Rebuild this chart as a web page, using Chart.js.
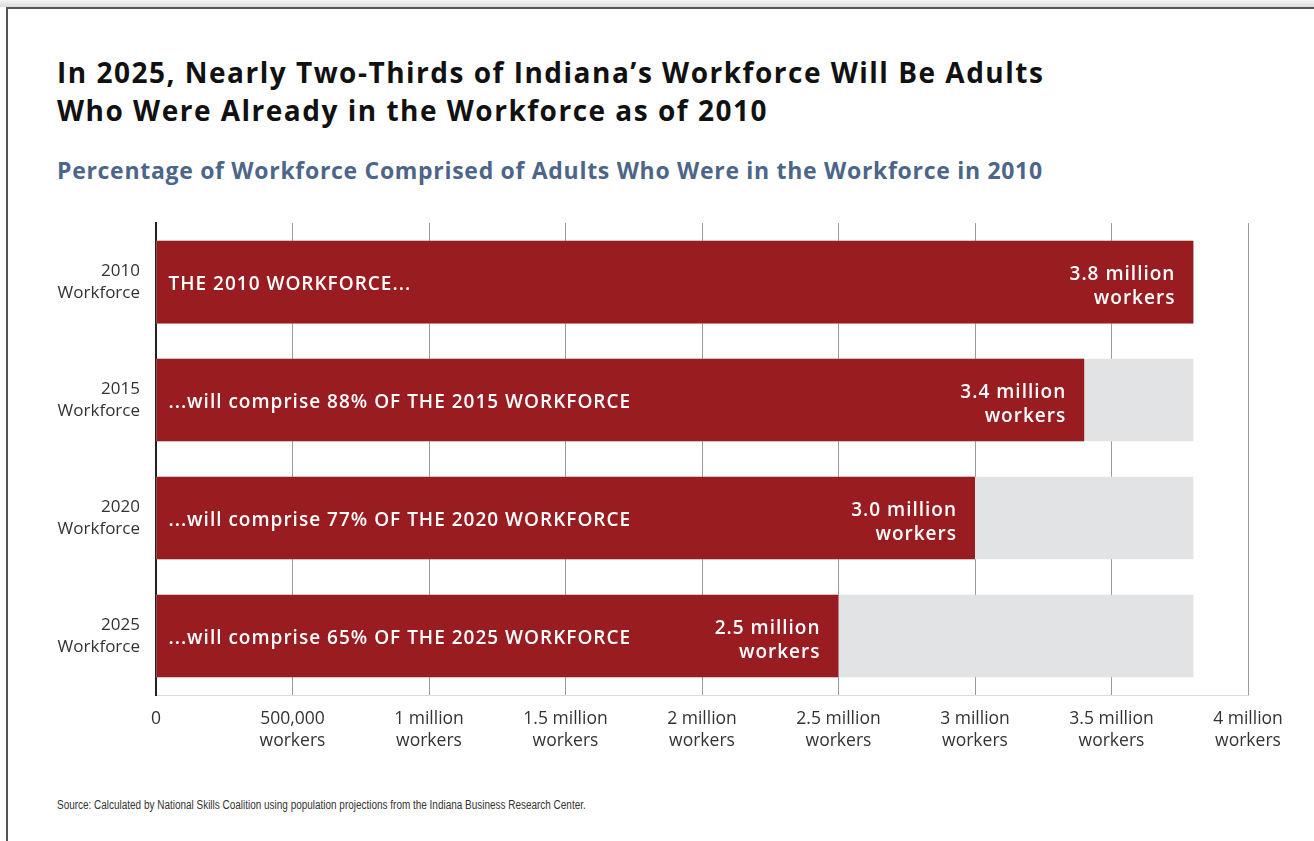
<!DOCTYPE html>
<html>
<head>
<meta charset="utf-8">
<script src="https://cdn.jsdelivr.net/npm/chart.js@4.4.0/dist/chart.umd.min.js"></script>
<style>
  body { margin: 0; background: #fff; width: 1314px; height: 841px; overflow: hidden; position: relative; font-family: "Open Sans", Lato, sans-serif; }
  #shade { position: absolute; left: 0; top: 0; width: 1314px; height: 7px; background: linear-gradient(#f4f4f4, #dcdcdc); }
  #frame { position: absolute; left: 6px; top: 7px; width: 1400px; height: 900px; border-top: 2px solid #555; border-left: 2px solid #555; }
  h1 { position: absolute; left: 57px; top: 53px; margin: 0; font-size: 28px; line-height: 38px; font-weight: 700; color: #111; letter-spacing: 1.5px; white-space: nowrap; }
  h2 { position: absolute; left: 57px; top: 154px; margin: 0; font-size: 23px; font-weight: 700; color: #4c6589; letter-spacing: 0.7px; white-space: nowrap; }
  #source { position: absolute; left: 57px; top: 798px; font-family: "Liberation Sans", sans-serif; font-size: 12px; color: #333; transform: scaleX(0.83); transform-origin: left top; white-space: nowrap; }
  #wrap { position: absolute; left: 0; top: 185px; width: 1314px; height: 590px; }
</style>
</head>
<body>
<div id="shade"></div>
<div id="frame"></div>
<h1>In 2025, Nearly Two-Thirds of Indiana’s Workforce Will Be Adults<br>Who Were Already in the Workforce as of 2010</h1>
<h2>Percentage of Workforce Comprised of Adults Who Were in the Workforce in 2010</h2>
<div id="wrap"><canvas id="chart"></canvas></div>
<div id="source">Source: Calculated by National Skills Coalition using population projections from the Indiana Business Research Center.</div>
<script>
// values in millions of workers
var categories = [["2010", "Workforce"], ["2015", "Workforce"], ["2020", "Workforce"], ["2025", "Workforce"]]
var workers2010 = [3.8, 3.4, 3.0, 2.5]
var totalWorkforce = [3.8, 3.8, 3.8, 3.8]
var barTextLeft = ["THE 2010 WORKFORCE...", "...will comprise 88% OF THE 2015 WORKFORCE", "...will comprise 77% OF THE 2020 WORKFORCE", "...will comprise 65% OF THE 2025 WORKFORCE"]
var barTextRight = [["3.8 million", "workers"], ["3.4 million", "workers"], ["3.0 million", "workers"], ["2.5 million", "workers"]]
var tickValues = [0, 0.5, 1, 1.5, 2, 2.5, 3, 3.5, 4]
var tickLabels = [["0"], ["500,000", "workers"], ["1 million", "workers"], ["1.5 million", "workers"], ["2 million", "workers"], ["2.5 million", "workers"], ["3 million", "workers"], ["3.5 million", "workers"], ["4 million", "workers"]]

var fontFamily = '"Open Sans", Lato, sans-serif'

var barLabels = {
    id: 'barLabels',
    afterDatasetsDraw: function(chart) {
        var ctx = chart.ctx
        var meta = chart.getDatasetMeta(0)
        ctx.save()
        ctx.fillStyle = '#fff'
        ctx.font = '600 19px ' + fontFamily
        ctx.letterSpacing = '1px'
        ctx.textBaseline = 'middle'
        meta.data.forEach(function(bar, i) {
            ctx.textAlign = 'left'
            ctx.fillText(barTextLeft[i], bar.base + 12, bar.y + 3)
            ctx.textAlign = 'right'
            ctx.fillText(barTextRight[i][0], bar.x - 18, bar.y - 7)
            ctx.fillText(barTextRight[i][1], bar.x - 18, bar.y + 17)
        })
        ctx.restore()
    }
}

new Chart(document.getElementById('chart').getContext('2d'), {
    type: 'bar',
    data: {
        labels: categories,
        datasets: [
            {
                label: "Adults in 2010 workforce",
                data: workers2010,
                backgroundColor: "#981c20",
                barPercentage: 0.7,
                categoryPercentage: 1
            },
            {
                label: "Workforce",
                data: totalWorkforce,
                backgroundColor: "#e2e3e4",
                barPercentage: 0.7,
                categoryPercentage: 1
            }
        ]
    },
    options: {
        indexAxis: 'y',
        responsive: true,
        maintainAspectRatio: false,
        animation: false,
        grouped: false,
        layout: { padding: { top: 8.5, right: 66, bottom: 0, left: 0 } },
        plugins: {
            legend: { display: false },
            tooltip: { enabled: false }
        },
        scales: {
            x: {
                min: 0,
                max: 4,
                afterBuildTicks: function(scale) {
                    scale.ticks = tickValues.map(function(v) { return { value: v } })
                },
                afterFit: function(scale) { scale.height = 80 },
                ticks: {
                    color: '#333',
                    font: { size: 17.5, family: fontFamily, lineHeight: 1.27 },
                    padding: 13,
                    maxRotation: 0,
                    autoSkip: false,
                    callback: function(value, index) { return tickLabels[index] }
                },
                grid: {
                    color: '#9a9a9a',
                    lineWidth: 1,
                    drawTicks: false
                },
                border: { color: '#dddddd', width: 1 }
            },
            y: {
                afterFit: function(scale) { scale.width = 156 },
                ticks: {
                    color: '#333',
                    font: { size: 17, family: fontFamily, lineHeight: 1.3 },
                    padding: 16
                },
                grid: { display: false, drawTicks: false },
                border: { color: '#222', width: 2 }
            }
        }
    },
    plugins: [barLabels]
});
</script>
</body>
</html>
